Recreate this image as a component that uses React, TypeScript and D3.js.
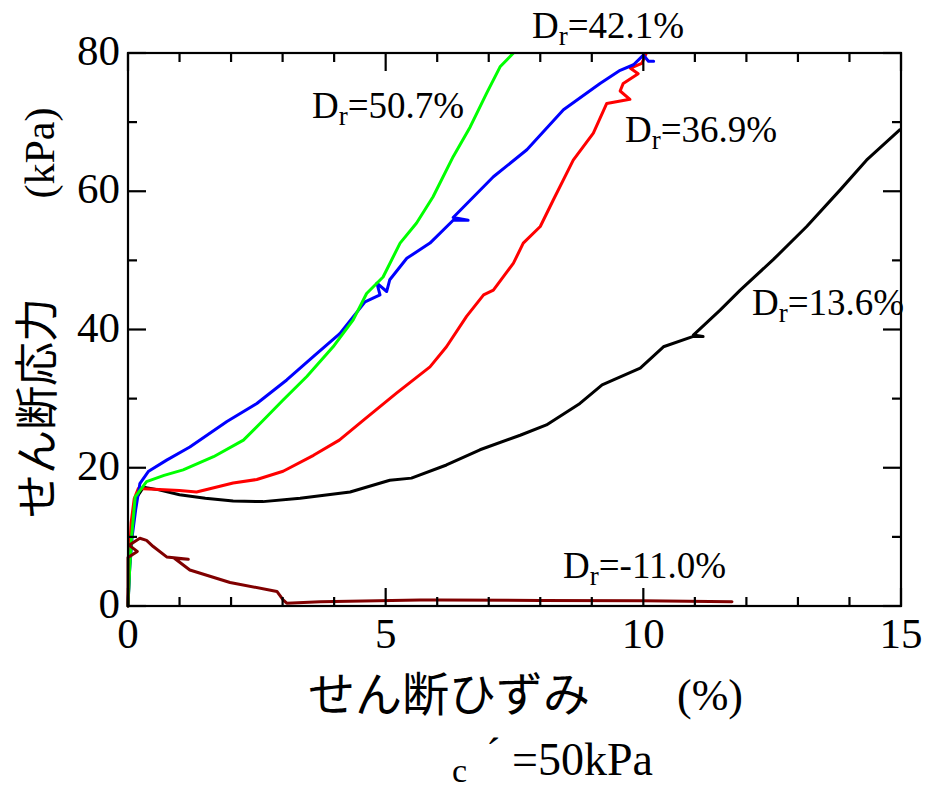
import React from "react";
import * as d3 from "d3";

// ---- data ----
const strain136 = [0, 0.03, 0.08, 0.15, 0.3, 0.6, 1.0, 1.5, 2.04, 2.62, 3.34, 4.31, 5.08, 5.5, 6.18, 6.83, 7.61, 8.12, 8.77, 9.2, 9.42, 9.94, 10.39, 10.97, 11.16, 10.97, 11.49, 11.88, 12.52, 13.17, 13.82, 14.33, 14.98];
const stress136 = [0, 6, 12, 15.5, 17.2, 16.8, 16.1, 15.6, 15.2, 15.1, 15.6, 16.5, 18.2, 18.5, 20.4, 22.6, 24.7, 26.2, 29.3, 32.0, 32.7, 34.4, 37.5, 39.0, 39.0, 39.2, 42.8, 45.7, 50.1, 54.9, 60.2, 64.5, 68.9];

const strain369 = [0, 0.02, 0.06, 0.12, 0.2, 0.5, 1.0, 1.33, 2.04, 2.5, 3.01, 3.6, 4.1, 4.57, 5.21, 5.86, 6.18, 6.57, 6.9, 7.09, 7.48, 7.67, 8.0, 8.25, 8.64, 9.03, 9.29, 9.74, 9.55, 9.61, 9.9, 9.75, 9.97, 10.06];
const stress369 = [0, 6, 12, 15.5, 17.0, 16.9, 16.7, 16.5, 17.8, 18.3, 19.5, 21.8, 24.0, 26.9, 30.8, 34.6, 37.5, 41.9, 45.0, 45.7, 49.6, 52.5, 54.9, 58.7, 64.5, 68.4, 72.7, 73.3, 74.5, 75.6, 77.0, 77.8, 78.5, 80];

const strain421 = [0, 0.03, 0.08, 0.15, 0.23, 0.4, 0.75, 1.2, 1.92, 2.5, 3.08, 3.6, 4.11, 4.6, 4.89, 4.83, 5.02, 5.08, 5.41, 5.86, 6.31, 6.6, 6.31, 7.09, 7.74, 8.45, 9.16, 9.55, 9.81, 10.0, 10.1, 10.2];
const stress421 = [0, 5, 10, 14, 17.7, 19.5, 21.1, 23.0, 26.7, 29.3, 32.7, 36.1, 39.4, 44.0, 45.0, 46.7, 45.5, 47.2, 50.3, 52.5, 55.8, 55.8, 56.2, 62.1, 66.0, 71.8, 75.6, 77.5, 78.3, 79.7, 78.8, 78.8];

const strain507 = [0, 0.03, 0.07, 0.14, 0.36, 0.7, 1.07, 1.66, 2.24, 2.63, 3.01, 3.47, 3.98, 4.37, 4.63, 4.95, 5.28, 5.6, 5.92, 6.31, 6.64, 6.96, 7.22, 7.48];
const stress507 = [0, 5, 10, 15.8, 18.0, 18.9, 19.7, 21.6, 24.0, 26.9, 29.8, 33.2, 37.5, 41.4, 45.2, 47.6, 52.5, 55.4, 59.2, 65.0, 69.3, 74.2, 78.0, 80.0];

const strainNeg110 = [0, 0.0, 0.0, 0.18, 0.02, 0.23, 0.36, 0.49, 0.75, 1.17, 0.9, 1.2, 1.98, 2.89, 3.01, 3.08, 3.73, 5.67, 6.05, 8.0, 10.0, 11.72];
const stressNeg110 = [0, 5.4, 7.0, 7.9, 8.8, 9.8, 9.5, 8.6, 7.1, 6.75, 6.9, 5.2, 3.4, 2.1, 0.87, 0.4, 0.63, 0.87, 0.87, 0.8, 0.75, 0.63];

const seriesColors = ["#000000", "#ff0000", "#0000ff", "#00ff00", "#800000"];
const seriesLabels = ["13.6%", "36.9%", "42.1%", "50.7%", "-11.0%"];

const xTicks = [0, 5, 10, 15];
const yTicks = [0, 20, 40, 60, 80];
const xMinor = [1, 2, 3, 4, 6, 7, 8, 9, 11, 12, 13, 14];
const yMinor = [10, 30, 50, 70];

const W = 925, H = 789;
const L = 128, R = 901, T = 53, B = 606;

export default function App() {
  const x = d3.scaleLinear().domain([0, 15]).range([L, R]);
  const y = d3.scaleLinear().domain([0, 80]).range([B, T]);
  const series = [
    [strain136, stress136],
    [strain369, stress369],
    [strain421, stress421],
    [strain507, stress507],
    [strainNeg110, stressNeg110],
  ];
  const line = d3
    .line<[number, number]>()
    .x((d) => x(d[0]))
    .y((d) => y(d[1]));

  const serif = "'Liberation Serif', 'Times New Roman', serif";
  const cjk = "'Noto Sans CJK JP', sans-serif";

  // label anchor positions (pixel) for the series labels
  const labelPos: [number, number][] = [
    [752, 315],
    [625, 142],
    [532, 38],
    [312, 118],
    [563, 578],
  ];

  const Dr = (i: number) => (
    <text key={"lab" + i} x={labelPos[i][0]} y={labelPos[i][1]} fontFamily={serif} fontSize={37} fill="#000">
      <tspan>D</tspan>
      <tspan fontSize={27} dy={7}>r</tspan>
      <tspan dy={-7}>={seriesLabels[i]}</tspan>
    </text>
  );

  return (
    <svg width={W} height={H} style={{ position: "absolute", left: 0, top: 0, background: "#fff" }}>
      <rect x={0} y={0} width={W} height={H} fill="#fff" />
      <defs>
        <clipPath id="plot">
          <rect x={L - 2} y={T - 1} width={R - L + 4} height={B - T + 3} />
        </clipPath>
      </defs>
      <g clipPath="url(#plot)">
        {series.map((s, i) => {
          const pts = s[0].map((v, j) => [v, s[1][j]] as [number, number]);
          return (
            <path key={i} d={line(pts) || ""} fill="none" stroke={seriesColors[i]} strokeWidth={3} strokeLinejoin="round" strokeLinecap="round" />
          );
        })}
      </g>
      {/* frame */}
      <rect x={L} y={T} width={R - L} height={B - T} fill="none" stroke="#000" strokeWidth={2.2} />
      {/* ticks */}
      {xTicks.map((t) => (
        <g key={"xt" + t}>
          <line x1={x(t)} x2={x(t)} y1={B} y2={B - 18} stroke="#000" strokeWidth={2.2} />
          <line x1={x(t)} x2={x(t)} y1={T} y2={T + 18} stroke="#000" strokeWidth={2.2} />
          <text x={x(t)} y={648} textAnchor="middle" fontFamily={serif} fontSize={43}>{t}</text>
        </g>
      ))}
      {xMinor.map((t) => (
        <g key={"xm" + t}>
          <line x1={x(t)} x2={x(t)} y1={B} y2={B - 9} stroke="#000" strokeWidth={2.2} />
          <line x1={x(t)} x2={x(t)} y1={T} y2={T + 9} stroke="#000" strokeWidth={2.2} />
        </g>
      ))}
      {yTicks.map((t) => (
        <g key={"yt" + t}>
          <line x1={L} x2={L + 18} y1={y(t)} y2={y(t)} stroke="#000" strokeWidth={2.2} />
          <line x1={R} x2={R - 18} y1={y(t)} y2={y(t)} stroke="#000" strokeWidth={2.2} />
          <text x={120} y={y(t) + 12} textAnchor="end" fontFamily={serif} fontSize={43}>{t}</text>
        </g>
      ))}
      {yMinor.map((t) => (
        <g key={"ym" + t}>
          <line x1={L} x2={L + 9} y1={y(t)} y2={y(t)} stroke="#000" strokeWidth={2.2} />
          <line x1={R} x2={R - 9} y1={y(t)} y2={y(t)} stroke="#000" strokeWidth={2.2} />
        </g>
      ))}
      {/* series labels */}
      {seriesLabels.map((_, i) => Dr(i))}
      {/* axis titles */}
      <text transform="translate(34,408) rotate(-90)" textAnchor="middle" dominantBaseline="central" fontFamily={cjk} fontSize={44}>せん断応力</text>
      <text transform="translate(40,153) rotate(-90)" textAnchor="middle" dominantBaseline="central" fontFamily={serif} fontSize={42}>(kPa)</text>
      <text x={449} y={690} textAnchor="middle" dominantBaseline="central" fontFamily={cjk} fontSize={47}>せん断ひずみ</text>
      <text x={677} y={710} fontFamily={serif} fontSize={44}>(%)</text>
      {/* confining pressure note */}
      <text x={452} y={782} fontFamily={serif} fontSize={34}>c</text>
      <text x={486} y={768} fontFamily={serif} fontSize={44}>´</text>
      <text x={512} y={775} fontFamily={serif} fontSize={46}>=50kPa</text>
    </svg>
  );
}
